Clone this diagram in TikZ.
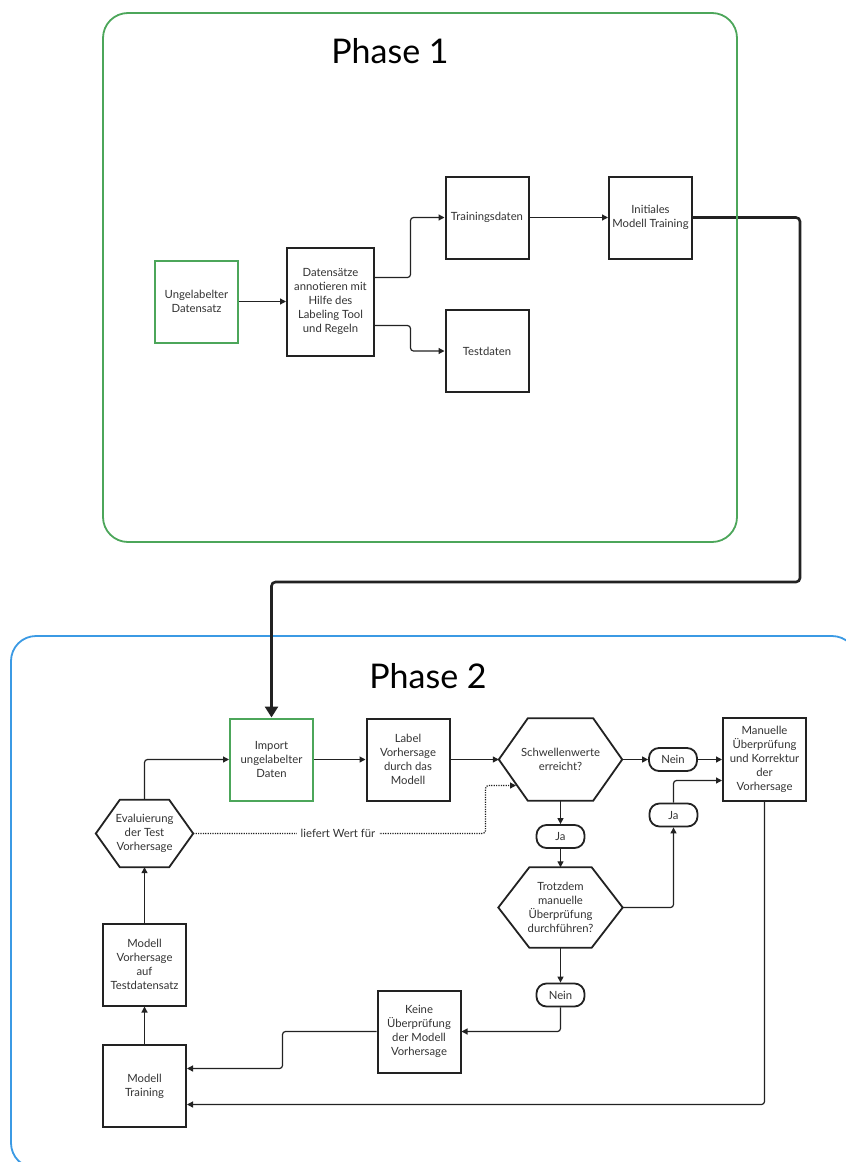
\documentclass[tikz,border=0pt]{standalone}
\usepackage{fontspec}
\setmainfont{Lato}
\usetikzlibrary{arrows.meta,calc}
\definecolor{pgreen}{HTML}{4CA65A}
\definecolor{pblue}{HTML}{3B9AE4}
\definecolor{ink}{HTML}{222222}
\definecolor{txt}{HTML}{333333}
\newcommand\drawhex[2]{\draw[hexline] (#1.west) -- ([xshift=#2]#1.north west) -- ([xshift=-#2]#1.north east) -- (#1.east) -- ([xshift=-#2]#1.south east) -- ([xshift=#2]#1.south west) -- cycle;}
\begin{document}
\begin{tikzpicture}[x=1pt,y=-1pt,
  every node/.style={text=txt,font=\fontsize{11.3}{14}\selectfont,align=center,inner sep=0pt},
  box/.style={draw=ink,line width=2pt,minimum width=83pt,minimum height=82pt},
  gbox/.style={box,draw=pgreen},
  hex/.style={draw=none},
  hexline/.style={draw=ink,line width=1.8pt,line join=miter},
  pill/.style={draw=ink,line width=1.8pt,rounded corners=10pt,minimum width=48pt,minimum height=23pt},
  conn/.style={draw=ink,line width=1.2pt,rounded corners=3pt,-{Triangle[length=6pt,width=6pt]}},
  thick conn/.style={draw=ink,line width=2.6pt,rounded corners=4pt,-{Triangle[length=11pt,width=13pt]}},
  dotconn/.style={conn,dash pattern=on 1.2pt off 1.2pt},
  phase/.style={line width=1.8pt,rounded corners=25pt},
  title/.style={font=\fontsize{34}{40}\selectfont,text=black}
]
\clip (0,0) rectangle (846,1162);
\fill[white] (0,0) rectangle (846,1162);

% Phase 2 frame
\draw[phase,draw=pblue] (11,636) rectangle (857,1168);
\node[title] (t2) at (428,676) {Phase 2};
\node[title] (t1) at (390,51) {Phase 1};

% Phase 1 nodes
\node[gbox] (ung) at (196.5,301.5) {Ungelabelter\\Datensatz};
\node[box,minimum width=87pt,minimum height=108pt] (dat) at (330.5,301.5) {Datensätze\\annotieren mit\\Hilfe des\\Labeling Tool\\und Regeln};
\node[box] (trn) at (487,217.5) {Trainingsdaten};
\node[box] (tst) at (487,351) {Testdaten};
\node[box] (ini) at (650.5,217.5) {Initiales\\Modell Training};

% Phase 2 nodes
\node[gbox] (imp) at (271.5,759.5) {Import\\ungelabelter\\Daten};
\node[box] (lab) at (408,759.5) {Label\\Vorhersage\\durch das\\Modell};
\node[hex,minimum width=123pt,minimum height=82pt] (sch) at (560.5,759.5) {Schwellenwerte\\erreicht?};
\node[pill] (nein1) at (673,759.5) {Nein};
\node[box,minimum height=83pt] (man) at (764.5,759.5) {Manuelle\\Überprüfung\\und Korrektur\\der\\Vorhersage};
\node[pill] (ja2) at (673.5,815) {Ja};
\node[pill] (ja1) at (560.5,836.5) {Ja};
\node[hex,minimum width=124pt,minimum height=80pt] (trz) at (560.5,907.5) {Trotzdem\\manuelle\\Überprüfung\\durchführen?};
\node[pill] (nein2) at (560.5,995) {Nein};
\node[box] (kei) at (419,1031.5) {Keine\\Überprüfung\\der Modell\\Vorhersage};
\node[box] (mvt) at (144.5,964.5) {Modell\\Vorhersage\\auf\\Testdatensatz};
\node[box] (mtr) at (144.5,1086) {Modell\\Training};
\node[hex,minimum width=97pt,minimum height=67pt] (eva) at (144.5,833.5) {Evaluierung\\der Test\\Vorhersage};

\drawhex{sch}{29pt}
\drawhex{trz}{31pt}
\drawhex{eva}{24pt}

\coordinate (schedge) at (516,785.5);

% Phase 1 connectors
\draw[conn] (ung.east) -- (dat.west);
\draw[conn] (dat.east |- 0,277.5) -- (410.5,277.5) |- (trn.west);
\draw[conn] (dat.east |- 0,325.5) -- (410.5,325.5) |- (tst.west);
\draw[conn] (trn.east) -- (ini.west);
\draw[thick conn] (ini.east) -- (800,217.5) -- (800,582) -- (271.5,582) -- (imp.north);

% Phase 1 frame (drawn over the thick connector as in the reference)
\draw[phase,draw=pgreen] (103,13) rectangle (737,542);

% Phase 2 connectors
\draw[conn] (imp.east) -- (lab.west);
\draw[conn] (lab.east) -- (sch.west);
\draw[conn] (sch.east) -- (nein1.west);
\draw[conn] (nein1.east) -- (man.west |- nein1.east);
\draw[conn] (sch.south) -- (ja1.north);
\draw[conn] (ja1.south) -- (trz.north);
\draw[conn] (trz.east) -| (ja2.south);
\draw[conn] (ja2.north) |- (man.west |- 0,780.5);
\draw[conn] (trz.south) -- (nein2.north);
\draw[conn] (nein2.south) |- (kei.east);
\draw[conn] (kei.west) -- (282.5,1031.5) |- (mtr.east |- 0,1068.5);
\draw[conn] (man.south) |- (mtr.east |- 0,1104.5);
\draw[conn] (mtr.north) -- (mvt.south);
\draw[conn] (mvt.north) -- (eva.south);
\draw[conn] (eva.north) |- (imp.west);
\draw[dotconn] (eva.east) -- (485.5,833.5) |- (schedge);
\node[fill=white,inner xsep=4pt,inner ysep=2pt] (lwf) at (338,833.5) {liefert Wert für};
\end{tikzpicture}
\end{document}
